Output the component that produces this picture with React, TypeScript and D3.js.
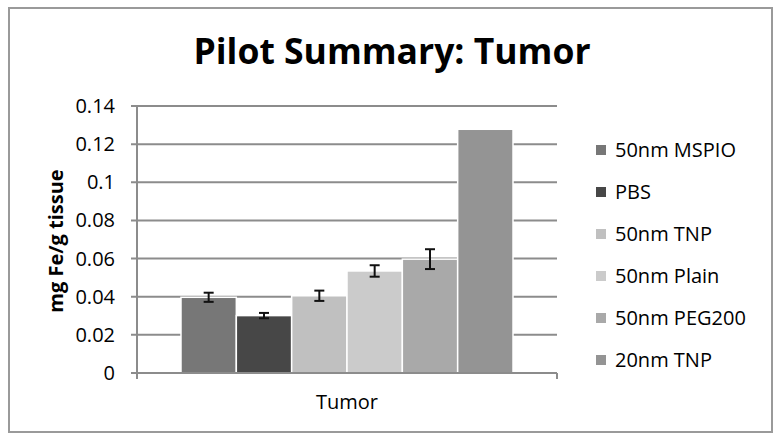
import React from "react";
import * as d3 from "d3";

const title = "Pilot Summary: Tumor";
const yLabel = "mg Fe/g tissue";
const category = "Tumor";
const seriesNames = ["50nm MSPIO", "PBS", "50nm TNP", "50nm Plain", "50nm PEG200", "20nm TNP"];
const seriesValues = [0.0397, 0.0301, 0.0405, 0.0535, 0.0597, 0.1278];
const seriesErrors = [0.0024, 0.0014, 0.0027, 0.003, 0.0052, 0];
const seriesColors = ["#777777", "#474747", "#c0c0c0", "#cbcbcb", "#a9a9a9", "#949494"];
const yTicks = [0, 0.02, 0.04, 0.06, 0.08, 0.1, 0.12, 0.14];
const yTickLabels = ["0", "0.02", "0.04", "0.06", "0.08", "0.1", "0.12", "0.14"];

const W = 782;
const H = 441;
const plot = { left: 137, right: 557, top: 106, bottom: 373 };
const font = "'Open Sans', sans-serif";

export default function App() {
  const y = d3.scaleLinear().domain([0, 0.14]).range([plot.bottom, plot.top]);
  const xGroup = d3.scaleBand().domain([category]).range([plot.left, plot.right]).paddingInner(0).paddingOuter(0.1325);
  const xBar = d3.scaleBand().domain(seriesNames).range([0, xGroup.bandwidth()]).padding(0);
  const gx = xGroup(category)!;
  const legendY = d3.scalePoint().domain(seriesNames).range([150, 360]);
  const gridColor = "#8c8c8c";

  return (
    <svg width={W} height={H} style={{ position: "absolute", left: 0, top: 0, background: "#fff" }}>
      <rect x={9} y={8} width={763} height={424} fill="#fff" stroke="#9a9a9a" strokeWidth={2} />
      <text x={392} y={64} textAnchor="middle" fontFamily={font} fontWeight="bold" fontSize={35.5} fill="#000">
        {title}
      </text>
      {/* gridlines */}
      {yTicks.map((t) => (
        <line key={"g" + t} x1={plot.left - 6} x2={plot.right} y1={y(t)} y2={y(t)} stroke={gridColor} strokeWidth={2} />
      ))}
      {/* bars */}
      {seriesNames.map((s, i) => (
        <rect
          key={s}
          x={gx + xBar(s)!}
          y={y(seriesValues[i])}
          width={xBar.bandwidth()}
          height={plot.bottom - y(seriesValues[i])}
          fill={seriesColors[i]}
          stroke="#fff"
          strokeWidth={1.5}
        />
      ))}
      {/* error bars */}
      {seriesNames.map((s, i) => {
        if (!seriesErrors[i]) return null;
        const cx = gx + xBar(s)! + xBar.bandwidth() / 2;
        const y1 = y(seriesValues[i] + seriesErrors[i]);
        const y2 = y(seriesValues[i] - seriesErrors[i]);
        return (
          <g key={"e" + s} stroke="#111" strokeWidth={2}>
            <line x1={cx} x2={cx} y1={y1} y2={y2} />
            <line x1={cx - 5} x2={cx + 5} y1={y1} y2={y1} />
            <line x1={cx - 5} x2={cx + 5} y1={y2} y2={y2} />
          </g>
        );
      })}
      {/* axes */}
      <line x1={plot.left} x2={plot.left} y1={plot.top} y2={plot.bottom + 6} stroke={gridColor} strokeWidth={2} />
      <line x1={plot.left} x2={plot.right} y1={plot.bottom} y2={plot.bottom} stroke={gridColor} strokeWidth={2} />
      <line x1={plot.right} x2={plot.right} y1={plot.bottom} y2={plot.bottom + 6} stroke={gridColor} strokeWidth={2} />
      {yTicks.map((t, i) => (
        <text key={"t" + t} x={115} y={y(t)} dy="0.35em" textAnchor="end" fontFamily={font} fontSize={20} fill="#000">
          {yTickLabels[i]}
        </text>
      ))}
      <text
        transform={`translate(63,241) rotate(-90)`}
        textAnchor="middle"
        fontFamily={font}
        fontWeight="bold"
        fontSize={20}
        fill="#000"
      >
        {yLabel}
      </text>
      <text x={(plot.left + plot.right) / 2} y={409} textAnchor="middle" fontFamily={font} fontSize={20} fill="#000">
        {category}
      </text>
      {/* legend */}
      {seriesNames.map((s, i) => (
        <g key={"l" + s} transform={`translate(596,${legendY(s)})`}>
          <rect x={0} y={-5} width={10} height={10} fill={seriesColors[i]} />
          <text x={19} y={0} dy="0.35em" fontFamily={font} fontSize={20} fill="#000">
            {s}
          </text>
        </g>
      ))}
    </svg>
  );
}
